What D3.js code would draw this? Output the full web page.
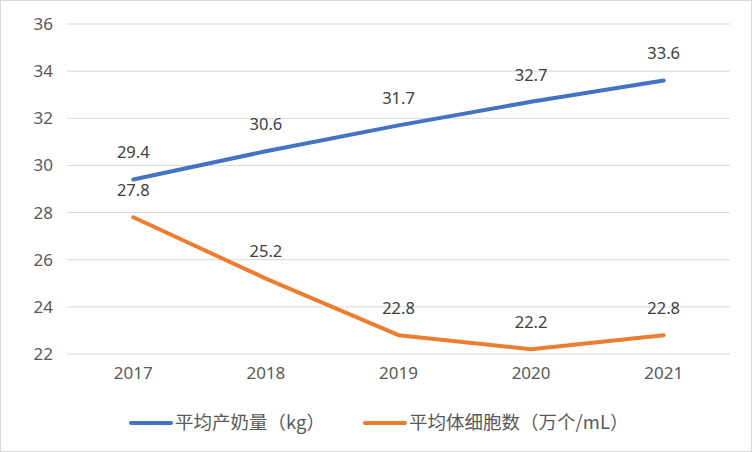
<!DOCTYPE html>
<html>
<head>
<meta charset="utf-8">
<script src="https://cdn.jsdelivr.net/npm/d3@7"></script>
<style>
  body { margin: 0; background: #fff; }
  text { font-family: "Noto Sans", "Noto Sans CJK SC", sans-serif; }
  .legend text { font-family: "Noto Sans CJK SC", "Noto Sans", sans-serif; }
</style>
</head>
<body>
<div id="chart"></div>
<script>
// chart data
const years = ["2017", "2018", "2019", "2020", "2021"];
const milkYield = [29.4, 30.6, 31.7, 32.7, 33.6];
const somaticCells = [27.8, 25.2, 22.8, 22.2, 22.8];
const yTicks = [22, 24, 26, 28, 30, 32, 34, 36];
const seriesNames = ["平均产奶量（kg）", "平均体细胞数（万个/mL）"];

const W = 752, H = 452;

let svg = d3.select("#chart").append("svg")
    .attr("width", W)
    .attr("height", H);

// outer border
svg.append("rect")
    .attr("x", 0.5).attr("y", 0.5)
    .attr("width", W - 1).attr("height", H - 1)
    .attr("fill", "#fff")
    .attr("stroke", "#d9d9d9");

let x = d3.scaleBand()
    .domain(years)
    .range([67, 730]);

let y = d3.scaleLinear()
    .domain([22, 36])
    .range([354, 24]);

// gridlines
svg.append("g")
    .selectAll("line")
    .data(yTicks)
  .enter().append("line")
    .attr("x1", 67).attr("x2", 730)
    .attr("y1", d => y(d)).attr("y2", d => y(d))
    .attr("stroke", "#d9d9d9")
    .attr("stroke-width", 1);

// y axis
let yAxis = svg.append("g")
    .attr("transform", "translate(53,0)")
    .call(d3.axisLeft(y).tickValues(yTicks).tickSize(0).tickPadding(0));
yAxis.select(".domain").remove();
yAxis.selectAll("text")
    .attr("fill", "#595959")
    .style("font-size", "17px");

// x axis
let xAxis = svg.append("g")
    .attr("transform", "translate(0,365)")
    .call(d3.axisBottom(x).tickSize(0).tickPadding(0));
xAxis.select(".domain").remove();
xAxis.selectAll("text")
    .attr("fill", "#595959")
    .attr("dy", "0.85em")
    .style("font-size", "17px");

const series = [
  {name: seriesNames[0], values: milkYield, color: "#4472c4"},
  {name: seriesNames[1], values: somaticCells, color: "#ed7d31"}
];

let line = d3.line()
    .x((d, i) => x(years[i]) + x.bandwidth() / 2)
    .y(d => y(d));

series.forEach(s => {
  svg.append("path")
      .datum(s.values)
      .attr("d", line)
      .attr("fill", "none")
      .attr("stroke", s.color)
      .attr("stroke-width", 4)
      .attr("stroke-linecap", "round")
      .attr("stroke-linejoin", "round");

  // data labels
  svg.append("g")
      .selectAll("text")
      .data(s.values)
    .enter().append("text")
      .attr("x", (d, i) => x(years[i]) + x.bandwidth() / 2)
      .attr("y", d => y(d) - 27)
      .attr("dy", "0.35em")
      .attr("text-anchor", "middle")
      .attr("fill", "#404040")
      .style("font-size", "16.5px")
      .text(d => d.toFixed(1));
});

// legend
const legendX = [129, 363];
series.forEach((s, i) => {
  let g = svg.append("g")
      .attr("class", "legend")
      .attr("transform", "translate(" + legendX[i] + ",423)");
  g.append("line")
      .attr("x1", 2).attr("x2", 42)
      .attr("y1", 0).attr("y2", 0)
      .attr("stroke", s.color)
      .attr("stroke-width", 4)
      .attr("stroke-linecap", "round");
  g.append("text")
      .attr("x", 46)
      .attr("dy", "0.35em")
      .attr("fill", "#595959")
      .style("font-size", "18.5px")
      .text(s.name);
});
</script>
</body>
</html>
